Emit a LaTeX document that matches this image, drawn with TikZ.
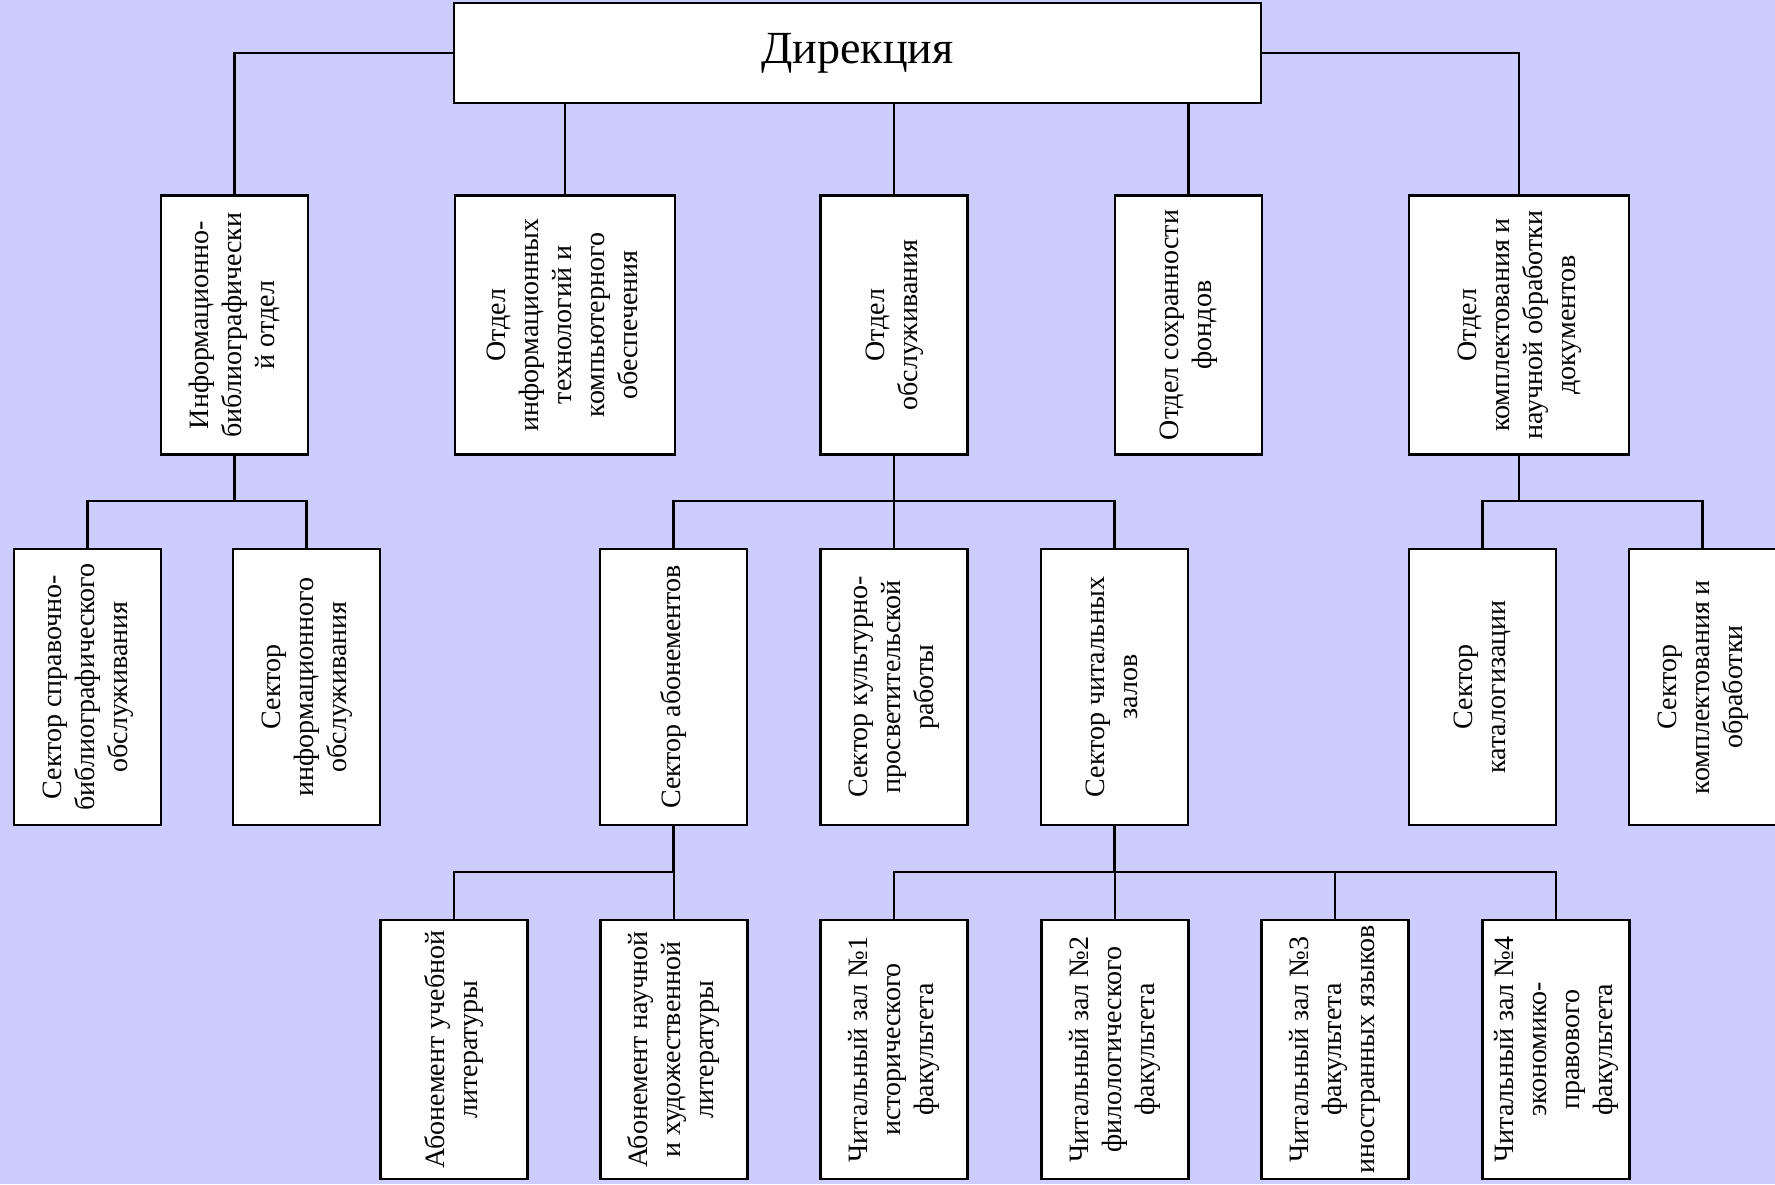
\documentclass[tikz,border=0pt]{standalone}
\usepackage{fontspec}
\setmainfont{Liberation Serif}
\usepackage{graphicx}

\definecolor{chartbg}{RGB}{204,204,255}
\newcommand\vlabel[1]{\rotatebox{90}{\begin{tabular}{@{}c@{}}#1\end{tabular}}}

\begin{document}
\begin{tikzpicture}[x=0.5pt,y=-0.5pt,
    box/.style={draw,fill=white,line width=1.1pt,inner sep=0pt,
        font=\fontsize{14}{16.5}\selectfont},
    narrow/.style={box,minimum width=73.5pt},
    wide/.style={box,minimum width=110pt},
    lev1/.style={minimum height=129.5pt},
    lev2/.style={minimum height=138pt},
    lev3/.style={minimum height=129.5pt},
    link/.style={line width=1.1pt}]

    \fill[chartbg] (0,0) rectangle (1775,1184);
    \useasboundingbox (0,0) rectangle (1775,1184);

    \coordinate (busA) at (0,501);
    \coordinate (busB) at (0,872);

    \node[box,minimum width=403.5pt,minimum height=50pt,
        font=\fontsize{23}{27}\selectfont] (dir) at (857.5,53) {Дирекция};

    \node[narrow,lev1] (info) at (234.5,325) {\vlabel{Информационно-\\библиографически\\й отдел}};
    \node[wide,lev1]   (tech) at (565,325)   {\vlabel{Отдел\\информационных\\технологий и\\компьютерного\\обеспечения}};
    \node[narrow,lev1] (serv) at (894,325)   {\vlabel{Отдел\\обслуживания}};
    \node[narrow,lev1] (pres) at (1188.5,325) {\vlabel{Отдел сохранности\\фондов}};
    \node[wide,lev1]   (acq)  at (1519,325)  {\vlabel{Отдел\\комплектования и\\научной обработки\\документов}};

    \node[narrow,lev2] (sprav) at (87.5,687)   {\vlabel{Сектор справочно-\\библиографического\\обслуживания}};
    \node[narrow,lev2] (inf)   at (306.5,687)  {\vlabel{Сектор\\информационного\\обслуживания}};
    \node[narrow,lev2] (abon)  at (673.5,687)  {\vlabel{Сектор абонементов}};
    \node[narrow,lev2] (kult)  at (894,687)    {\vlabel{Сектор культурно-\\просветительской\\работы}};
    \node[narrow,lev2] (chit)  at (1114.5,687) {\vlabel{Сектор читальных\\залов}};
    \node[narrow,lev2] (katal) at (1482.5,687) {\vlabel{Сектор\\каталогизации}};
    \node[narrow,lev2] (kompl) at (1702.5,687) {\vlabel{Сектор\\комплектования и\\обработки}};

    \node[narrow,lev3] (ab1) at (454,1049.5)  {\vlabel{Абонемент учебной\\литературы}};
    \node[narrow,lev3] (ab2) at (674,1049.5)  {\vlabel{Абонемент научной\\и художественной\\литературы}};
    \node[narrow,lev3] (z1)  at (894,1049.5)  {\vlabel{Читальный зал №1\\исторического\\факультета}};
    \node[narrow,lev3] (z2)  at (1115,1049.5) {\vlabel{Читальный зал №2\\филологического\\факультета}};
    \node[narrow,lev3] (z3)  at (1335,1049.5) {\vlabel{Читальный зал №3\\факультета\\иностранных языков}};
    \node[narrow,lev3] (z4)  at (1556,1049.5) {\vlabel{Читальный зал №4\\экономико-\\правового\\факультета}};

    \draw[link] (dir.west) -| (info.north);
    \draw[link] (dir.east) -| (acq.north);
    \foreach \n in {tech,serv,pres} \draw[link] (\n.north) -- (\n.north |- dir.south);

    \foreach \n in {sprav,inf} \draw[link] (info.south) -- (info.south |- busA) -| (\n.north);
    \foreach \n in {abon,kult,chit} \draw[link] (serv.south) -- (serv.south |- busA) -| (\n.north);
    \foreach \n in {katal,kompl} \draw[link] (acq.south) -- (acq.south |- busA) -| (\n.north);

    \foreach \n in {ab1,ab2} \draw[link] (abon.south) -- (abon.south |- busB) -| (\n.north);
    \foreach \n in {z1,z2,z3,z4} \draw[link] (chit.south) -- (chit.south |- busB) -| (\n.north);
\end{tikzpicture}
\end{document}
